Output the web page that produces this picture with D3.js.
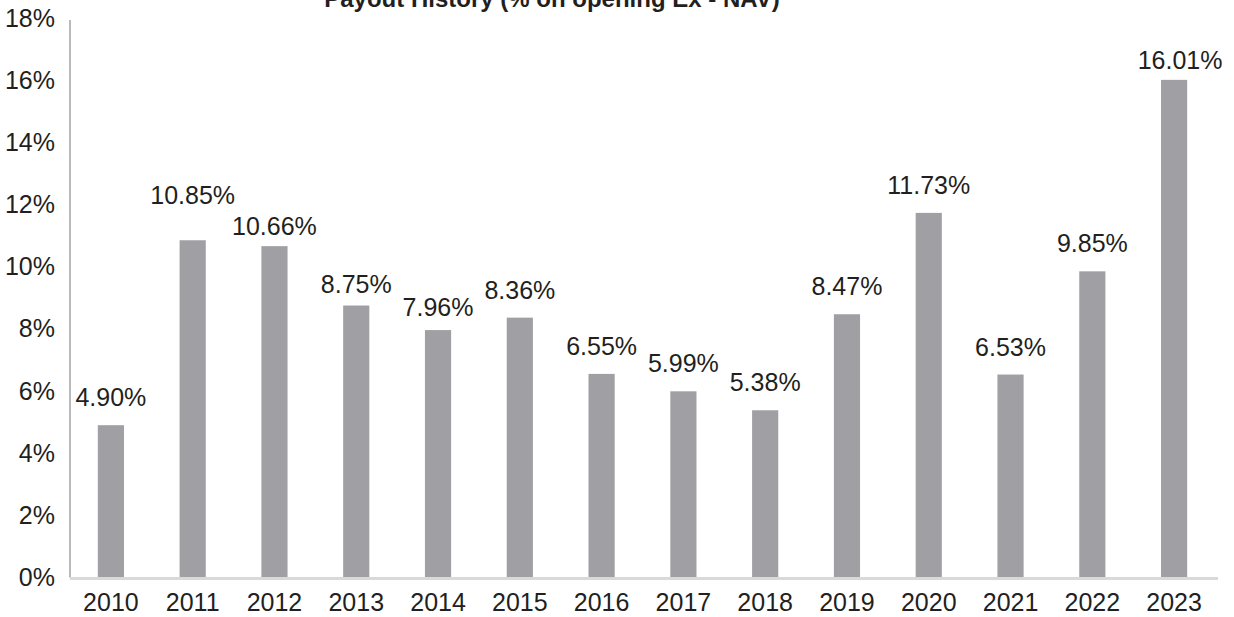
<!DOCTYPE html>
<html lang="en">
<head>
<meta charset="UTF-8" />
<title>Payout History</title>
<style>
  body {
    margin: 0;
    background: #fff;
    font-family: "Liberation Sans", Arial, sans-serif;
  }
  svg text {
    fill: #231f20;
  }
  .title {
    font-size: 24px;
    font-weight: bold;
  }
  .tick-label, .cat-label, .bar-label {
    font-size: 25px;
  }
</style>
</head>
<body>

<svg width="1234" height="617"></svg>

<script src="https://d3js.org/d3.v7.min.js"></script>
<script>
// Data
const years = ["2010", "2011", "2012", "2013", "2014", "2015", "2016",
               "2017", "2018", "2019", "2020", "2021", "2022", "2023"];
const payout = [4.90, 10.85, 10.66, 8.75, 7.96, 8.36, 6.55,
                5.99, 5.38, 8.47, 11.73, 6.53, 9.85, 16.01];
const yTicks = [0, 2, 4, 6, 8, 10, 12, 14, 16, 18];

// a few labels were nudged in the original to avoid collisions
const labelNudge = {
  "2011": { dx: 0, dy: -17 },
  "2012": { dx: 0, dy: 8 },
  "2013": { dx: 0, dy: 6 },
  "2014": { dx: 0, dy: 5 },
  "2023": { dx: 6, dy: 8 }
};

const svg = d3.select("svg");
const plotLeft = 70, plotRight = 1215, plotTop = 18, plotBottom = 577.5;

const x = d3.scaleBand()
  .domain(years)
  .range([plotLeft, plotRight])
  .paddingInner(0.68)
  .paddingOuter(0.34);

const y = d3.scaleLinear()
  .domain([0, 18])
  .range([plotBottom, plotTop]);

// Title (partly cut off at the top edge, as in the original)
svg.append("text")
  .attr("class", "title")
  .attr("x", 552)
  .attr("y", 7)
  .attr("text-anchor", "middle")
  .text("Payout History (% on opening Ex - NAV)");

// Bars
svg.append("g")
  .selectAll("rect")
  .data(years)
  .join("rect")
  .attr("x", d => x(d))
  .attr("y", (d, i) => y(payout[i]))
  .attr("width", x.bandwidth())
  .attr("height", (d, i) => y(0) - y(payout[i]))
  .attr("fill", "#a0a0a4");

// Y axis
const yAxis = svg.append("g")
  .attr("transform", `translate(${plotLeft},0)`)
  .call(d3.axisLeft(y).tickValues(yTicks).tickSize(0).tickPadding(15)
    .tickFormat(d => d + "%"));
yAxis.select(".domain").attr("stroke", "#a3a3a7").attr("stroke-width", 1.5)
  .attr("d", `M0,${plotTop + 2}V${plotBottom}`);
yAxis.selectAll(".tick text")
  .attr("class", "tick-label")
  .attr("fill", "#231f20");

// X axis
const xAxis = svg.append("g")
  .attr("transform", `translate(0,${plotBottom + 1})`)
  .call(d3.axisBottom(x).tickSize(0).tickPadding(15));
xAxis.select(".domain").attr("stroke", "#d9d9d9").attr("stroke-width", 3)
  .attr("d", `M${plotLeft},0H1218`);
xAxis.selectAll(".tick text")
  .attr("class", "cat-label")
  .attr("fill", "#231f20");

// let the CSS fonts win over d3's axis defaults
svg.selectAll("g").attr("font-family", null).attr("font-size", null);

// Value labels
svg.append("g")
  .selectAll("text")
  .data(years)
  .join("text")
  .attr("class", "bar-label")
  .attr("text-anchor", "middle")
  .attr("x", d => x(d) + x.bandwidth() / 2 + (labelNudge[d] ? labelNudge[d].dx : 0))
  .attr("y", (d, i) => y(payout[i]) - 19 + (labelNudge[d] ? labelNudge[d].dy : 0))
  .text((d, i) => payout[i].toFixed(2) + "%");
</script>

</body>
</html>
